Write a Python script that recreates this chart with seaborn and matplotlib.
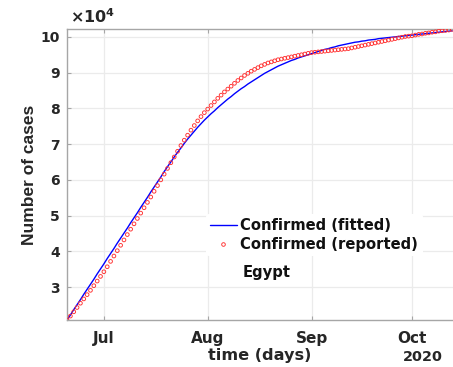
import matplotlib
matplotlib.use("Agg")
import matplotlib.pyplot as plt
import matplotlib.dates as mdates
from matplotlib.ticker import FuncFormatter, FixedLocator
from matplotlib.lines import Line2D
import seaborn as sns
import pandas as pd

# Daily cumulative confirmed cases, Egypt, from 20 June 2020
start_date = "2020-06-20"

reported = [
    20800, 21900, 23100, 24300, 25500, 26700, 27900, 29100, 30400, 31700,
    33000, 34300, 35700, 37200, 38700, 40200, 41700, 43200, 44700, 46200,
    47700, 49200, 50700, 52200, 53700, 55200, 56800, 58400, 60000, 61600,
    63200, 64800, 66400, 68000, 69600, 71100, 72500, 73900, 75200, 76500,
    77700, 78800, 79800, 80800, 81800, 82800, 83700, 84600, 85400, 86200,
    87000, 87800, 88500, 89200, 89800, 90400, 90900, 91400, 91900, 92300,
    92700, 93000, 93300, 93600, 93800, 94000, 94200, 94400, 94600, 94800,
    95000, 95200, 95400, 95600, 95700, 95800, 95900, 96000, 96100, 96200,
    96300, 96400, 96500, 96600, 96700, 96900, 97100, 97300, 97500, 97700,
    97900, 98100, 98300, 98500, 98700, 98900, 99100, 99300, 99500, 99700,
    99900, 100100, 100200, 100300, 100500, 100700, 100800, 101000, 101100, 101300,
    101400, 101600, 101700, 101800, 101900, 102100,
]

fitted = [
    20800, 22200, 23700, 25100, 26500, 28000, 29400, 30800, 32200, 33700,
    35100, 36500, 38000, 39400, 40800, 42300, 43700, 45100, 46500, 48000,
    49400, 50800, 52300, 53700, 55100, 56600, 58000, 59400, 60800, 62300,
    63700, 65000, 66400, 67700, 68900, 70200, 71400, 72500, 73600, 74700,
    75700, 76700, 77600, 78500, 79300, 80200, 81000, 81800, 82600, 83300,
    84100, 84800, 85500, 86100, 86800, 87400, 88000, 88600, 89200, 89800,
    90300, 90800, 91300, 91800, 92200, 92600, 93000, 93400, 93700, 94100,
    94400, 94700, 95000, 95300, 95600, 95900, 96200, 96500, 96700, 97000,
    97200, 97500, 97700, 97900, 98100, 98300, 98500, 98600, 98800, 98900,
    99100, 99200, 99300, 99500, 99600, 99700, 99800, 99900, 100000, 100100,
    100200, 100300, 100400, 100500, 100600, 100700, 100800, 100900, 101000, 101100,
    101200, 101300, 101400, 101500, 101600, 101700,
]

y_ticks = [30000, 40000, 50000, 60000, 70000, 80000, 90000, 100000]
month_ticks = ["2020-07-01", "2020-08-01", "2020-09-01", "2020-10-01"]

dates = pd.date_range(start_date, periods=len(reported), freq="D")
df = pd.DataFrame({"date": dates, "reported": reported, "fitted": fitted})

sns.set_theme(style="whitegrid")
plt.rcParams["font.family"] = ["DejaVu Sans"]
plt.rcParams["font.weight"] = "bold"
plt.rcParams["mathtext.fontset"] = "dejavusans"

DARK = "#262626"
SPINE = "#a6a6a6"

fig = plt.figure(figsize=(4.53, 3.67), dpi=100)
ax = fig.add_axes([0.148, 0.128, 0.852, 0.793])

sns.lineplot(data=df, x="date", y="fitted", ax=ax, color="blue",
             linewidth=1.0, legend=False)
sns.scatterplot(data=df, x="date", y="reported", ax=ax, marker="o",
                s=7, facecolors="none", edgecolor="#ff3030", linewidth=0.65,
                legend=False, zorder=3)

ax.set_xlim(pd.Timestamp("2020-06-20"), pd.Timestamp("2020-10-13 06:00"))
ax.set_ylim(20800, 102200)

ax.xaxis.set_major_locator(FixedLocator(mdates.date2num(pd.to_datetime(month_ticks))))
ax.xaxis.set_major_formatter(mdates.DateFormatter("%b"))
ax.yaxis.set_major_locator(FixedLocator(y_ticks))
ax.yaxis.set_major_formatter(FuncFormatter(lambda v, p: f"{v / 1e4:g}"))

ax.set_facecolor("white")
ax.grid(True, color="#ebebeb", linewidth=0.9)
for side in ["left", "bottom", "top"]:
    ax.spines[side].set_visible(True)
    ax.spines[side].set_color(SPINE)
    ax.spines[side].set_linewidth(1.0)
ax.spines["right"].set_visible(False)

ax.tick_params(axis="both", direction="in", length=3, width=0.8,
               color=SPINE, labelcolor=DARK)
ax.tick_params(axis="x", pad=8, top=True, bottom=True, labelsize=11)
ax.tick_params(axis="y", pad=5, left=True, labelsize=10)
for lbl in ax.get_xticklabels() + ax.get_yticklabels():
    lbl.set_fontweight("bold")

ax.set_xlabel("time (days)", fontsize=11.6, fontweight="bold", color=DARK, labelpad=1)
ax.set_ylabel("Number of cases", fontsize=12.5, fontweight="bold", color=DARK,
              labelpad=3, family="Liberation Sans")

ax.text(0.008, 1.012, r"$\times\mathbf{10}^{\mathbf{4}}$", transform=ax.transAxes,
        fontsize=11.5, color=DARK, ha="left", va="bottom")
ax.text(0.922, -0.127, "2020", transform=ax.transAxes, fontsize=10.4,
        fontweight="bold", color=DARK, ha="center", va="center")

handles = [
    Line2D([], [], color="blue", linewidth=1.0),
    Line2D([], [], color="#ff3030", marker="o", linestyle="none",
           markersize=2.6, markerfacecolor="none", markeredgewidth=0.65),
]
leg = ax.legend(handles, ["Confirmed (fitted)", "Confirmed (reported)"],
                loc="upper left", bbox_to_anchor=(0.34, 0.39),
                frameon=True, facecolor="white", edgecolor="none", framealpha=1,
                fontsize=10.6, handlelength=1.8, handletextpad=0.25,
                labelspacing=0.25, borderpad=0.3, numpoints=1)
for t in leg.get_texts():
    t.set_fontweight("bold")
    t.set_color("#111111")

ax.text(0.456, 0.165, "Egypt", transform=ax.transAxes, fontsize=10.6,
        fontweight="bold", color="#111111", ha="left", va="center",
        bbox=dict(facecolor="white", edgecolor="none", pad=4))

fig.savefig("out.png", dpi=100, facecolor="white")
